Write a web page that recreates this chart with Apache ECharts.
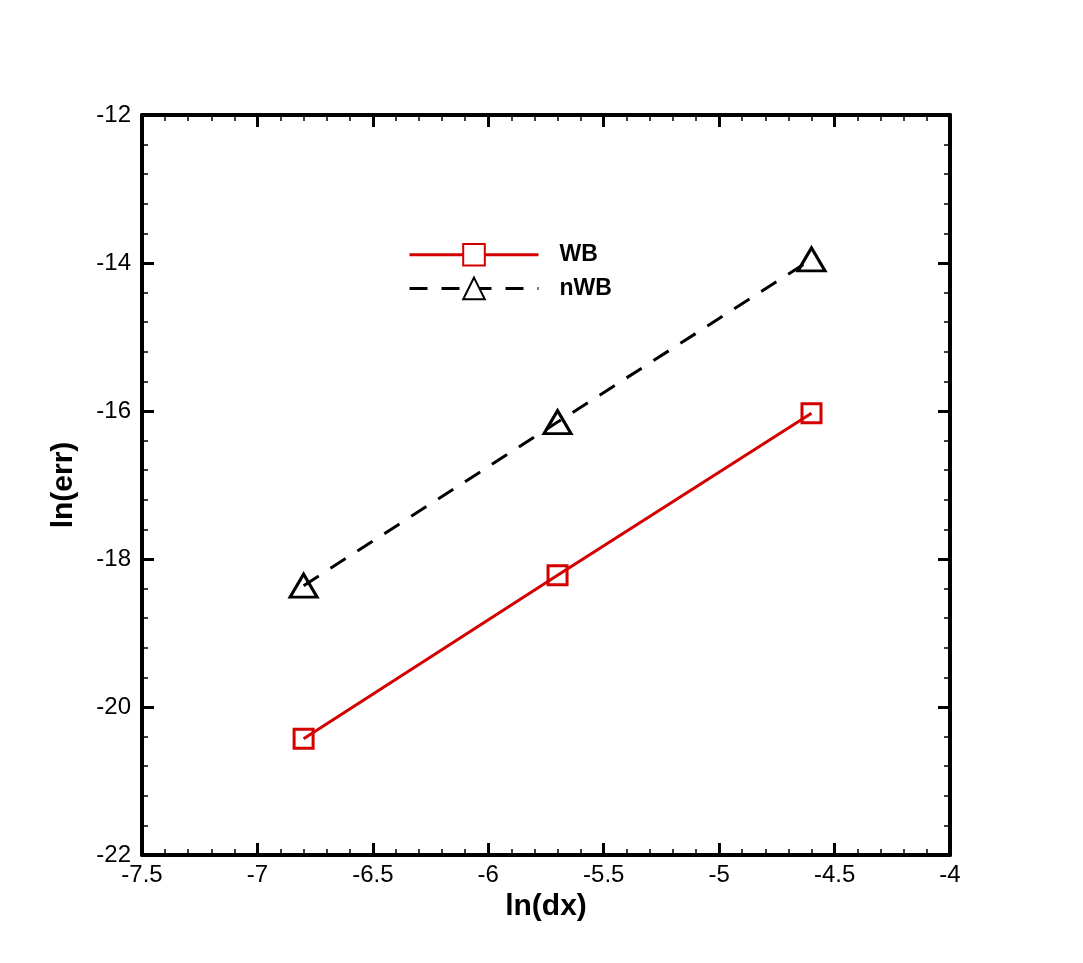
<!DOCTYPE html>
<html><head><meta charset="utf-8">
<script src="https://cdn.jsdelivr.net/npm/echarts@6/dist/echarts.min.js"></script>
<style>html,body{margin:0;padding:0;background:#fff}#c{width:1083px;height:963px}</style>
</head><body><div id="c"></div>
<script>
const seriesNames = ['WB', 'nWB'];
const xValues = [-6.8, -5.7, -4.6];
const wbValues = [-20.43, -18.22, -16.03];
const nwbValues = [-18.36, -16.15, -13.95];
const xTitle = 'ln(dx)';
const yTitle = 'ln(err)';

const FONT = '"Liberation Sans", Arial, sans-serif';
const chart = echarts.init(document.getElementById('c'), null, {renderer: 'canvas'});
const axisCommon = {
  axisLine: {show: true, onZero: false, lineStyle: {color: '#000', width: 4}},
  axisTick: {show: true, inside: true, length: 12, lineStyle: {color: '#000', width: 3}},
  minorTick: {show: true, splitNumber: 5, length: 6, lineStyle: {color: '#000', width: 1.5}},
  splitLine: {show: false}
};
const option = {
  backgroundColor: '#fff',
  animation: false,
  grid: {left: 142, top: 115, width: 808, height: 740, containLabel: false},
  legend: {
    orient: 'vertical', left: 408, top: 243, padding: 0, itemWidth: 129, itemHeight: 27, itemGap: 10,
    lineStyle: {width: 3},
    textStyle: {fontFamily: FONT, fontSize: 23, fontWeight: 'bold', color: '#000', padding: [0, 0, 0, 16]},
    data: [
      {name: seriesNames[0], itemStyle: {color: '#fff'}},
      {name: seriesNames[1], itemStyle: {color: '#fff'}}
    ]
  },
  xAxis: [
    Object.assign({type: 'value', min: -7.5, max: -4, interval: 0.5, position: 'bottom',
      name: xTitle, nameLocation: 'middle', nameGap: 36,
      nameTextStyle: {fontFamily: FONT, fontSize: 30, fontWeight: 'bold', color: '#000'},
      axisLabel: {fontFamily: FONT, fontSize: 24, color: '#000', margin: 8}}, axisCommon),
    Object.assign({type: 'value', min: -7.5, max: -4, interval: 0.5, position: 'top',
      axisLabel: {show: false}}, axisCommon)
  ],
  yAxis: [
    Object.assign({type: 'value', min: -22, max: -12, interval: 2, position: 'left',
      name: yTitle, nameLocation: 'middle', nameGap: 63, nameRotate: 90,
      nameTextStyle: {fontFamily: FONT, fontSize: 30, fontWeight: 'bold', color: '#000'},
      axisLabel: {fontFamily: FONT, fontSize: 24, color: '#000', margin: 11}}, axisCommon),
    Object.assign({type: 'value', min: -22, max: -12, interval: 2, position: 'right',
      axisLabel: {show: false}}, axisCommon)
  ],
  series: [
    {name: seriesNames[0], type: 'line', data: xValues.map((x, i) => [x, wbValues[i]]),
      symbol: 'rect', symbolSize: 19, showAllSymbol: true,
      itemStyle: {color: 'rgba(255,255,255,0)', borderColor: '#d40000', borderWidth: 3},
      lineStyle: {color: '#d40000', width: 3}, color: '#d40000', z: 3},
    {name: seriesNames[1], type: 'line', data: xValues.map((x, i) => [x, nwbValues[i]]),
      symbol: 'triangle', symbolSize: [27, 23], showAllSymbol: true,
      itemStyle: {color: 'rgba(255,255,255,0)', borderColor: '#000', borderWidth: 3},
      lineStyle: {color: '#000', width: 3, type: [18, 14]}, color: '#000', z: 3}
  ]
};
chart.setOption(option);
</script></body></html>
